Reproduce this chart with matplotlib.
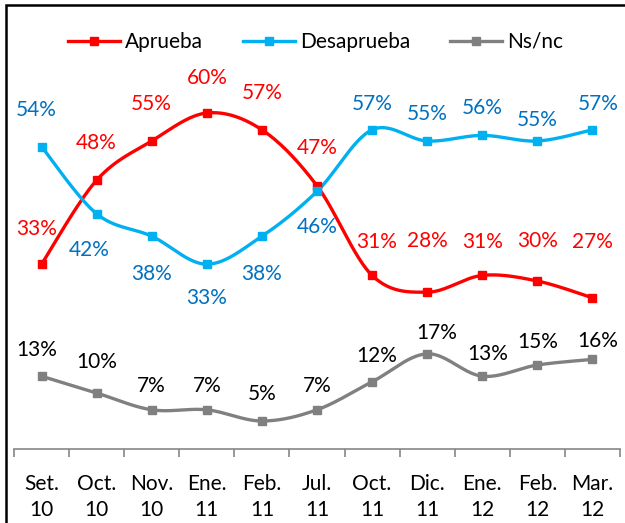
import matplotlib
matplotlib.use("Agg")
import matplotlib.pyplot as plt
import numpy as np
from matplotlib.lines import Line2D
from matplotlib.patches import Rectangle

categories = ["Set.\n10", "Oct.\n10", "Nov.\n10", "Ene.\n11", "Feb.\n11", "Jul.\n11",
              "Oct.\n11", "Dic.\n11", "Ene.\n12", "Feb.\n12", "Mar.\n12"]
aprueba = [33, 48, 55, 60, 57, 47, 31, 28, 31, 30, 27]
desaprueba = [54, 42, 38, 33, 38, 46, 57, 55, 56, 55, 57]
nsnc = [13, 10, 7, 7, 5, 7, 12, 17, 13, 15, 16]

# label offsets in pixels (dx, dy) relative to the point
off_apr = [(-5, 35), (0, 37), (0, 37), (0, 35), (0, 37), (0, 38), (5, 33), (0, 51), (0, 33), (0, 40), (0, 56)]
off_des = [(-5, 37), (-7, -36), (0, -38), (0, -34), (0, -38), (0, -36), (0, 26), (0, 27), (0, 27), (0, 21), (6, 26)]
off_ns = [(-5, 26), (0, 31), (0, 24), (0, 24), (0, 27), (0, 24), (5, 26), (10, 21), (5, 22), (0, 23), (5, 18)]

plt.rcParams['font.family'] = ['Lato', 'DejaVu Sans']

FS = 15
W, H = 625, 523
fig = plt.figure(figsize=(W / 100, H / 100), dpi=100)
ax_left, ax_right = 14 / W, 620 / W
ax_bottom, ax_top = (H - 449) / H, (H - 57) / H
ax = fig.add_axes([ax_left, ax_bottom, ax_right - ax_left, ax_top - ax_bottom])

n = len(categories)
x = np.arange(n)
ax.set_xlim(-0.5, n - 0.5)
ax.set_ylim(0, 70)


def smooth(xs, ys, steps=30):
    xs = np.asarray(xs, float)
    ys = np.asarray(ys, float)
    P = np.column_stack([xs, ys])
    P = np.vstack([P[0], P, P[-1]])
    out = []
    for i in range(1, len(P) - 2):
        p0, p1, p2, p3 = P[i - 1], P[i], P[i + 1], P[i + 2]
        c1 = p1 + (p2 - p0) / 6
        c2 = p2 - (p3 - p1) / 6
        t = np.linspace(0, 1, steps)[:, None]
        seg = (1 - t) ** 3 * p1 + 3 * (1 - t) ** 2 * t * c1 + 3 * (1 - t) * t ** 2 * c2 + t ** 3 * p2
        out.append(seg if i == 1 else seg[1:])
    out = np.vstack(out)
    return out[:, 0], out[:, 1]


series = [
    ("Aprueba", aprueba, "#FF0000", "#FF0000", off_apr),
    ("Desaprueba", desaprueba, "#00B0F0", "#0070C0", off_des),
    ("Ns/nc", nsnc, "#808080", "#000000", off_ns),
]

handles = []
for name, vals, col, tcol, offs in series:
    sx, sy = smooth(x, vals)
    ax.plot(sx, sy, color=col, lw=2.4, solid_capstyle="round", zorder=3)
    ax.plot(x, vals, ls="none", marker="s", ms=6.3, color=col, zorder=4)
    for xi, v, (dx, dy) in zip(x, vals, offs):
        ax.annotate(f"{v}%", (xi, v), xytext=(dx * 0.72, dy * 0.72), textcoords="offset points",
                    ha="center", va="center", color=tcol, fontsize=FS)
    handles.append(Line2D([0], [0], color=col, lw=2.4, marker="s", ms=6.3, label=name))

for s in ["top", "right", "left"]:
    ax.spines[s].set_visible(False)
ax.spines["bottom"].set_color("#868686")
ax.spines["bottom"].set_linewidth(1.2)
ax.set_yticks([])
ax.set_xticks(np.arange(-0.5, n, 1.0))
ax.set_xticklabels([])
ax.set_xticks(x, minor=True)
ax.set_xticklabels(categories, minor=True, fontsize=FS, linespacing=1.38)
ax.tick_params(axis="x", which="major", length=6, color="#868686", width=1.2)
ax.tick_params(axis="x", which="minor", length=0, pad=18)

fig.legend(handles=handles, loc="center", bbox_to_anchor=(0.505, (H - 42) / H), ncol=3,
           frameon=False, fontsize=FS, handlelength=2.5, columnspacing=1.9, handletextpad=0.25)

fig.add_artist(Rectangle((6 / W, -0.1), 1.2, (H - 5) / H + 0.1, transform=fig.transFigure,
                         fill=False, edgecolor="black", lw=1.8))

fig.savefig("out.png", dpi=100)
